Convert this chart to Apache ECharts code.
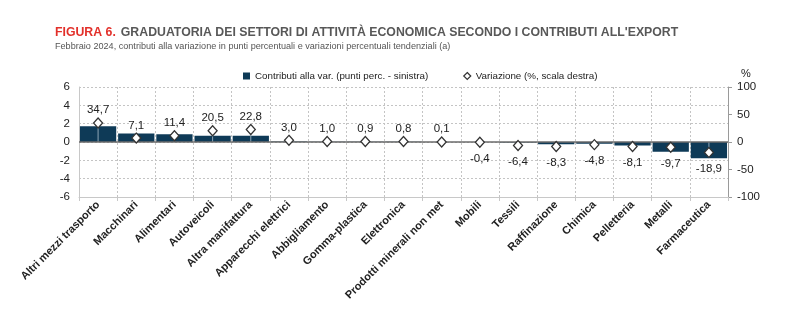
<!DOCTYPE html>
<html><head><meta charset="utf-8">
<script src="https://cdn.jsdelivr.net/npm/echarts@6/dist/echarts.min.js"></script>
<style>html,body{margin:0;padding:0;background:#fff}#c{width:800px;height:332px}</style>
</head><body><div id="c"></div>
<script>
const categories = ["Altri mezzi trasporto","Macchinari","Alimentari","Autoveicoli","Altra manifattura","Apparecchi elettrici","Abbigliamento","Gomma-plastica","Elettronica","Prodotti minerali non met","Mobili","Tessili","Raffinazione","Chimica","Pelletteria","Metalli","Farmaceutica"];
const contributi = [1.72,0.92,0.85,0.67,0.67,0.05,0.02,0.02,0.02,0.0,-0.01,-0.06,-0.24,-0.2,-0.38,-1.05,-1.78];
const variazione = [34.7,7.1,11.4,20.5,22.8,3.0,1.0,0.9,0.8,0.1,-0.4,-6.4,-8.3,-4.8,-8.1,-9.7,-18.9];
const leftTicks = {min:-6,max:6,interval:2};
const rightTicks = {min:-100,max:100,interval:50};

const FONT = '"Liberation Sans",Arial,sans-serif';
const fmt = v => v.toFixed(1).replace('.', ',');
const chart = echarts.init(document.getElementById('c'));
chart.setOption({
  animation:false,
  textStyle:{fontFamily:FONT},
  title:{
    left:50, top:19,
    text:'{r|FIGURA 6.} {g|GRADUATORIA DEI SETTORI DI ATTIVITÀ ECONOMICA SECONDO I CONTRIBUTI ALL\'EXPORT}',
    textStyle:{rich:{
      r:{color:'#e2302a',fontWeight:'bold',fontSize:12.3,fontFamily:FONT},
      g:{color:'#585858',fontWeight:'bold',fontSize:12.3,fontFamily:FONT}
    }},
    subtext:'Febbraio 2024, contributi alla variazione in punti percentuali e variazioni percentuali tendenziali (a)',
    subtextStyle:{color:'#555',fontSize:9.1,fontFamily:FONT},
    itemGap:0
  },
  legend:{
    left:238, top:66, itemGap:35, itemWidth:7, itemHeight:7,
    textStyle:{fontSize:9.8,color:'#222',fontFamily:FONT},
    data:[{name:'Contributi alla var. (punti perc. - sinistra)',icon:'rect'},
          {name:'Variazione (%, scala destra)',icon:'diamond',itemStyle:{color:'#fff',borderColor:'#333',borderWidth:1.2}}]
  },
  grid:{left:79,right:72,top:87,bottom:135},
  xAxis:{
    type:'category', data:categories, boundaryGap:true,
    axisLine:{show:true,onZero:false,lineStyle:{color:'#c8c8c8'}},
    axisTick:{show:true,length:4,lineStyle:{color:'#c8c8c8'}},
    splitLine:{show:true,lineStyle:{color:'#c4c4c4',type:[2,2],width:1}},
    axisLabel:{rotate:45,interval:0,fontSize:11,fontWeight:'bold',color:'#222',margin:6,fontFamily:FONT}
  },
  yAxis:[
    {type:'value',...leftTicks,
     axisLine:{show:true,lineStyle:{color:'#c8c8c8'}},axisTick:{show:false},
     splitLine:{show:true,lineStyle:{color:'#c4c4c4',type:[2,2]}},
     axisLabel:{fontSize:11.5,color:'#222',margin:9,fontFamily:FONT}},
    {type:'value',...rightTicks,position:'right',
     name:'%',nameLocation:'end',nameGap:8,nameTextStyle:{fontSize:11,color:'#222',align:'left',padding:[0,0,0,13]},
     axisLine:{show:true,lineStyle:{color:'#9a9a9a'}},axisTick:{show:true,length:4,inside:false,lineStyle:{color:'#9a9a9a'}},
     splitLine:{show:false},
     axisLabel:{fontSize:11.5,color:'#222',margin:9,fontFamily:FONT}}
  ],
  series:[
    {name:'Contributi alla var. (punti perc. - sinistra)',type:'bar',yAxisIndex:0,data:contributi,
     barCategoryGap:'5%',itemStyle:{color:'#0e3a57'},
     markLine:{silent:true,symbol:'none',label:{show:false},lineStyle:{color:'#6b6b6b',type:'solid',width:1.5},data:[{yAxis:0}]}},
    {name:'drop',type:'custom',yAxisIndex:1,data:variazione,z:4,silent:true,
     renderItem:(params,api)=>{
       const a = api.coord([api.value(0),0]);
       const b = api.coord([api.value(0),api.value(1)]);
       return {type:'line',shape:{x1:a[0],y1:a[1],x2:b[0],y2:b[1]},style:{stroke:'#8ea5b6',lineWidth:1}};
     },
     encode:{x:0,y:1}},
    {name:'Variazione (%, scala destra)',type:'line',yAxisIndex:1,
     data:variazione.map(v=>({value:v,label:{position:v<0?'bottom':'top',distance:v<0?5:1}})),
     lineStyle:{width:0,opacity:0},symbol:'diamond',symbolSize:[9,10],z:5,
     itemStyle:{color:'#fff',borderColor:'#333',borderWidth:1.3},
     label:{show:true,fontSize:11.5,color:'#222',fontFamily:FONT,formatter:p=>fmt(p.value)}}
  ]
});
</script></body></html>
